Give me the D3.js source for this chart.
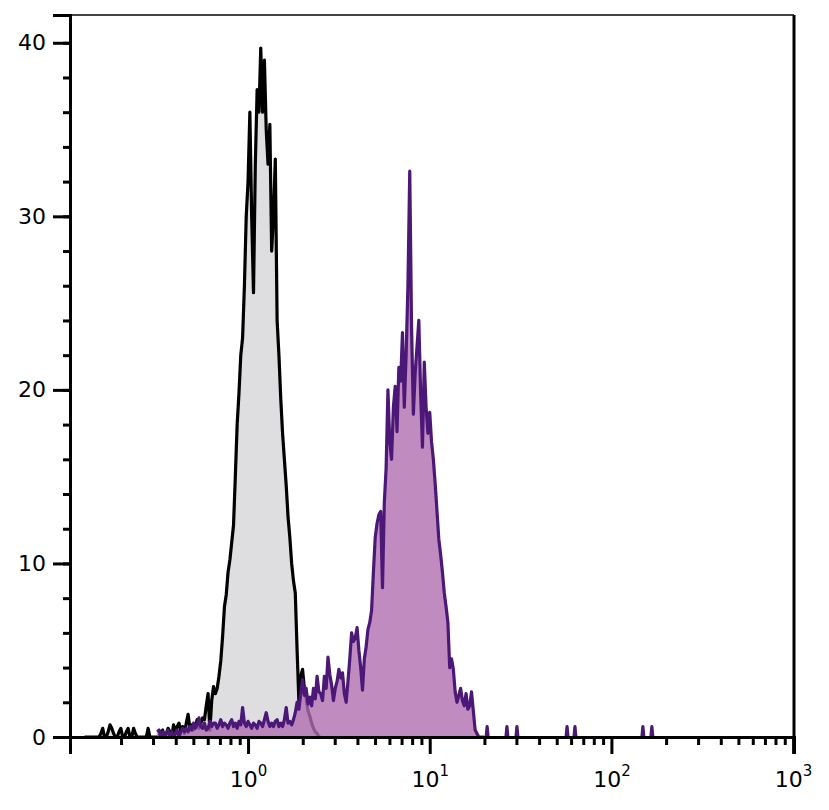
<!DOCTYPE html>
<html>
<head>
<meta charset="utf-8">
<script src="https://cdn.jsdelivr.net/npm/d3@7"></script>
<style>
  html, body { margin: 0; padding: 0; background: #fff; }
  svg text { font-family: "DejaVu Sans", sans-serif; fill: #000; }
</style>
</head>
<body>
<div id="chart"></div>
<script>
// Histogram bins are spaced evenly in log10 units
var binStep = 0.01;

// Control (unstained) histogram, first bin at log10 = -0.9
var grayStart = -0.9;
var grayCounts = [
  0, 0, 0, 0, 0, 0, 0, 0, 0, 0.2,
  0.5, 0, 0, 0.3, 0.7, 0.5, 0.2, 0, 0, 0.3,
  0.5, 0, 0, 0.3, 0.5, 0, 0, 0.5, 0.2, 0,
  0, 0, 0, 0, 0, 0.5, 0, 0, 0, 0,
  0, 0, 0.3, 0.4, 0, 0.2, 0.5, 0.3, 0, 0.7,
  0.3, 0.6, 0.8, 0.3, 0.6, 0.2, 0.8, 1.3, 0.5, 0.7,
  0.4, 0.6, 1.0, 0.5, 0.8, 1.1, 1.0, 1.8, 2.5, 0.4,
  2.1, 2.9, 2.5, 2.8, 3.5, 4.4, 5.8, 7.5, 8.2, 9.5,
  10.2, 11.2, 12.2, 15, 18, 19.8, 22, 23, 26, 30,
  32, 36, 30, 25.6, 33, 37.3, 36, 39.7, 36, 39,
  35, 33, 35.3, 28, 30, 33.3, 24, 22, 19.5, 17.5,
  16, 14.5, 12.7, 11.5, 10, 9, 8.3, 5, 2, 3.5,
  3.9, 2.8, 2.2, 1.5, 1.2, 0.8, 0.5, 0.3, 0.2, 0,
  0
];

// Stained sample histogram, first bin at log10 = -0.5
var purpleStart = -0.5;
var purpleCounts = [
  0.3, 0.4, 0, 0.3, 0, 0.2, 0.4, 0, 0.3, 0,
  0.2, 0.4, 0, 0.3, 0.5, 0.3, 0.5, 0.3, 0.6, 0.4,
  0.8, 0.5, 0.7, 1.1, 0.6, 0.5, 0.8, 0.4, 0.5, 0.9,
  0.6, 0.8, 0.8, 0.5, 0.7, 1.0, 0.6, 0.8, 0.7, 0.5,
  0.8, 1.0, 0.6, 0.8, 0.5, 0.9, 0.7, 1.7, 0.8, 0.6,
  0.9, 0.7, 0.5, 0.8, 0.7, 0.5, 0.9, 0.8, 0.6, 1.0,
  1.4, 0.9, 0.6, 0.8, 0.6, 0.9, 1.0, 0.6, 0.8, 0.6,
  1.0, 1.7, 0.8, 0.9, 0.7, 1.0, 1.4, 2.0, 1.6, 2.5,
  3.3, 2.4, 2.8, 1.9, 2.3, 1.8, 2.8, 2.2, 3.5, 2.6,
  2.5, 2.1, 3.5, 2.8, 4.6, 3.6, 3.0, 2.1, 2.8, 3.2,
  3.9, 3.4, 3.7, 2.5, 2.0, 3.2, 4.5, 6.0, 5.5, 5.7,
  6.3, 5.0, 4.0, 2.7, 4.5, 5.2, 6.2, 6.6, 7.3, 9.5,
  11.5, 12.3, 12.8, 13.0, 8.6, 13.5, 15.5, 20.0, 17.0, 16.0,
  19.0, 20.2, 17.6, 21.3, 20.5, 23.3, 19.0, 22.0, 26.0, 32.6,
  23.6, 18.6, 21.0, 22.5, 24.0, 19.8, 16.7, 21.6, 19.0, 17.5,
  18.7, 17.0, 16.0, 14.6, 13.0, 11.4, 10.5, 9.5, 8.3, 7.5,
  6.6, 4.0, 4.5, 3.9, 2.6, 2.0, 2.4, 2.8, 2.1, 1.8,
  2.5, 1.6, 1.8, 2.6, 1.5, 0.4, 0.2, 0, 0, 0,
  0
];

// Isolated single events of the stained sample (fluorescence values)
var purpleEvents = [20.7, 26.6, 30.2, 57, 63, 149, 167];
var eventCount = 0.6;

var yMajorTicks = [0, 10, 20, 30, 40];
var yMinorTicks = d3.range(0, 42, 2);
var xDecades = [0, 1, 2, 3];

var width = 829, height = 810;
var margin = {top: 15, right: 35, bottom: 73, left: 70};

var svg = d3.select("#chart").append("svg")
  .attr("width", width)
  .attr("height", height);

var x = d3.scaleLog()
  .domain([Math.pow(10, -0.98), Math.pow(10, 3.005)])
  .range([margin.left, width - margin.right]);

var y = d3.scaleLinear()
  .domain([0, 41.6])
  .range([height - margin.bottom, margin.top]);

function toBins(start, counts) {
  return counts.map(function(c, i) {
    return {v: Math.pow(10, start + i * binStep), c: c};
  });
}

var grayBins = toBins(grayStart, grayCounts);
var purpleBins = toBins(purpleStart, purpleCounts);

var area = d3.area()
  .x(function(d) { return x(d.v); })
  .y0(y(0))
  .y1(function(d) { return y(d.c); });

var line = d3.line()
  .x(function(d) { return x(d.v); })
  .y(function(d) { return y(d.c); });

svg.append("clipPath").attr("id", "plot-clip")
  .append("rect")
  .attr("x", margin.left).attr("y", margin.top)
  .attr("width", x.range()[1] - margin.left)
  .attr("height", y(0) - margin.top);

var plot = svg.append("g").attr("clip-path", "url(#plot-clip)");

// control histogram
plot.append("path").datum(grayBins)
  .attr("d", area)
  .attr("fill", "#dedddf");
plot.append("path").datum(grayBins)
  .attr("d", line)
  .attr("fill", "none")
  .attr("stroke", "#000")
  .attr("stroke-width", 3.2)
  .attr("stroke-linejoin", "round");

// stained histogram, drawn over the control
plot.append("path").datum(purpleBins)
  .attr("d", area)
  .attr("fill", "#b06fb0")
  .attr("fill-opacity", 0.8);
plot.append("path").datum(purpleBins)
  .attr("d", line)
  .attr("fill", "none")
  .attr("stroke", "#4c1878")
  .attr("stroke-width", 3.2)
  .attr("stroke-linejoin", "round");

// lone events as small bumps
purpleEvents.forEach(function(v) {
  var bump = [{v: v / 1.012, c: 0}, {v: v, c: eventCount}, {v: v * 1.012, c: 0}];
  plot.append("path").datum(bump)
    .attr("d", line)
    .attr("fill", "none")
    .attr("stroke", "#4c1878")
    .attr("stroke-width", 3.2)
    .attr("stroke-linejoin", "round");
});

// frame: thin top, heavy right/left/bottom
var x0 = margin.left, x1 = x.range()[1], yTop = margin.top, yBot = y(0);
svg.append("line")
  .attr("x1", x0).attr("x2", x1).attr("y1", yTop).attr("y2", yTop)
  .attr("stroke", "#444").attr("stroke-width", 2);
svg.append("line")
  .attr("x1", x1).attr("x2", x1).attr("y1", yTop).attr("y2", yBot)
  .attr("stroke", "#000").attr("stroke-width", 3);

// y axis
var yAxisMinor = svg.append("g")
  .attr("transform", "translate(" + x0 + ",0)")
  .call(d3.axisLeft(y).tickValues(yMinorTicks).tickSize(7).tickFormat(""));
var yAxis = svg.append("g")
  .attr("transform", "translate(" + x0 + ",0)")
  .call(d3.axisLeft(y).tickValues(yMajorTicks).tickSize(17).tickPadding(7));
yAxis.selectAll("text").style("font-size", "22px");

// x axis
var minorX = [];
for (var e = -1; e < 3; e++) {
  for (var m = 2; m <= 9; m++) minorX.push(m * Math.pow(10, e));
}
minorX = minorX.filter(function(v) { return v >= x.domain()[0] && v <= x.domain()[1]; });

var xAxisMinor = svg.append("g")
  .attr("transform", "translate(0," + yBot + ")")
  .call(d3.axisBottom(x).tickValues(minorX).tickSize(8).tickFormat(""));
var xAxis = svg.append("g")
  .attr("transform", "translate(0," + yBot + ")")
  .call(d3.axisBottom(x)
    .tickValues(xDecades.map(function(p) { return Math.pow(10, p); }))
    .tickSize(17)
    .tickFormat(""));

xAxis.selectAll(".tick").each(function(d, i) {
  var t = d3.select(this).append("text")
    .attr("y", 50)
    .attr("text-anchor", "middle")
    .style("font-size", "22px")
    .attr("fill", "#000");
  t.append("tspan").text("10");
  t.append("tspan")
    .attr("dy", -11)
    .style("font-size", "15px")
    .text(xDecades[i]);
});

svg.selectAll(".domain").attr("stroke", "#000").attr("stroke-width", 3);
svg.selectAll(".tick line").attr("stroke", "#000").attr("stroke-width", 3);
yAxisMinor.select(".domain").remove();
xAxisMinor.select(".domain").remove();
</script>
</body>
</html>
